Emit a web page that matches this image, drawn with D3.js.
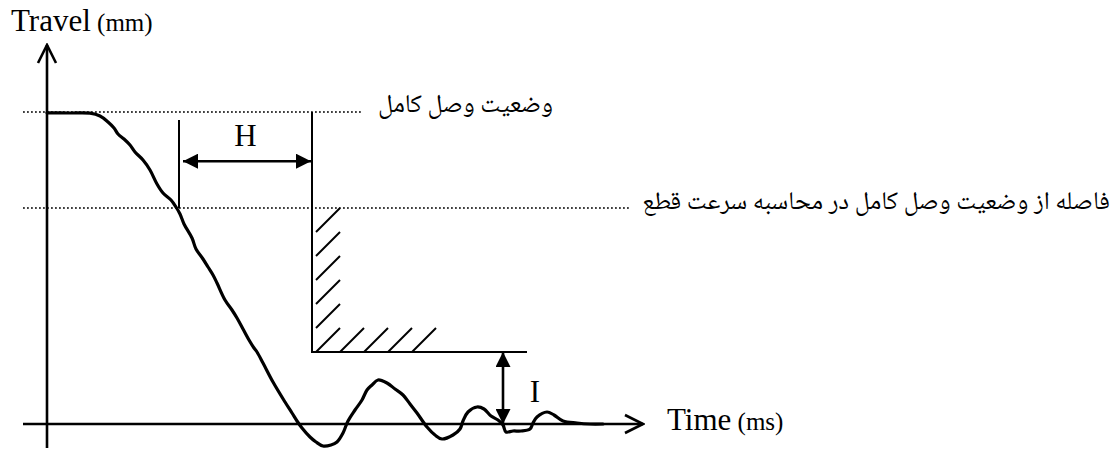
<!DOCTYPE html>
<html>
<head>
<meta charset="utf-8">
<script src="https://cdn.jsdelivr.net/npm/d3@7"></script>
<style>
  html, body { margin: 0; padding: 0; background: #fff; }
  svg { display: block; }
</style>
</head>
<body>
<svg id="chart" width="1118" height="452"></svg>
<script>
// ---- data (time in ms-units, travel in mm-units) ----
const curveTime = [0, 5.75, 10.75, 13.25, 15.25, 16.75, 17.75, 19.25, 20.75, 22, 24, 25.75, 27.5, 29, 31, 32.25, 33.25, 34.25, 36.25, 37.25, 39, 40.25, 41.5, 42.5, 44.5, 46.25, 47.5, 49, 50.5, 51.75, 52.5, 54, 56.5, 59.5, 61.25, 62.5, 63.75, 65.75, 67.25, 69, 71, 72.5, 74, 75.25, 77, 78.75, 80, 81.25, 82.75, 85, 87, 89, 90.75, 92.5, 95, 97, 98.75, 101.5, 103.25, 104, 105.25, 107.5, 109.25, 111, 112.75, 114, 114.75, 116.5, 118.5, 120.75, 121.5, 122.5, 125, 126.75, 129, 132.5, 135.75, 139];
const curveTravel = [77.8, 77.75, 77.7, 77, 75.5, 74, 72.5, 71.25, 69.75, 68, 66, 63.5, 60, 57.75, 56, 54.25, 52.5, 50, 46.5, 43.75, 41.25, 39.25, 37.25, 35.25, 31, 28.5, 26.5, 23.75, 21, 19, 18, 15.25, 10.5, 5.5, 2.75, 0.75, -1, -3.25, -4.5, -5.5, -5.25, -4.5, -2.25, 0.75, 3.5, 6, 8.5, 9.75, 11, 10.25, 8.75, 7.25, 5, 2.75, -0.75, -2.75, -3.75, -2.75, -1.25, 0.75, 3, 4.25, 3.75, 2, 1, -0.25, -2, -1.75, -1.75, -1.25, 0.25, 1.75, 3, 2.25, 0.75, 0.25, 0, 0];

const closedLevel = 78;        // full closed position
const measureLevel = 54;       // level used in opening-speed calc
const hStart = 33, hEnd = 66.25, hTop = 76;   // H interval
const envelopeTime = 66.25, envelopeLevel = 18, envelopeEnd = 120;
const iTime = 114;
const hatchLevels = [18, 24, 30, 36, 42, 48];
const hatchTimes = [73.25, 79.25, 85.25, 91.25];
const hatchSize = 6, hatchGap = 1;
const xDomain = [0, 149], yDomain = [0, 78];
const axisXMin = -6, axisYMin = -6, axisYMax = 94.75;

const labelTravel = "Travel", unitTravel = "(mm)";
const labelTime = "Time", unitTime = "(ms)";
const labelH = "H", labelI = "I";
const textClosed = "وضعیت وصل کامل";
const textMeasure = "فاصله از وضعیت وصل کامل در محاسبه سرعت قطع";

// ---- scales ----
const x = d3.scaleLinear().domain(xDomain).range([47, 643]);
const y = d3.scaleLinear().domain(yDomain).range([424, 112]);

const svg = d3.select("#chart");
const defs = svg.append("defs");
defs.append("marker").attr("id", "arrowFill")
  .attr("viewBox", "0 0 16 16").attr("refX", 16).attr("refY", 8)
  .attr("markerWidth", 16).attr("markerHeight", 15)
  .attr("markerUnits", "userSpaceOnUse").attr("orient", "auto-start-reverse")
  .append("path").attr("d", "M0,0 L16,8 L0,16 Z").attr("fill", "#000");
defs.append("marker").attr("id", "arrowOpen")
  .attr("viewBox", "-1 -1 22 24").attr("refX", 19).attr("refY", 10)
  .attr("markerWidth", 22).attr("markerHeight", 24)
  .attr("markerUnits", "userSpaceOnUse").attr("orient", "auto")
  .append("path").attr("d", "M1,1 L19,10 L1,19").attr("fill", "none")
  .attr("stroke", "#000").attr("stroke-width", 2.6);

const serif = "'Liberation Serif', 'Times New Roman', serif";

// dotted reference lines
svg.append("line").attr("x1", x(axisXMin)).attr("x2", 362)
  .attr("y1", y(closedLevel)).attr("y2", y(closedLevel))
  .attr("stroke", "#000").attr("stroke-width", 1.6).attr("stroke-dasharray", "1.8,2.2");
svg.append("line").attr("x1", x(axisXMin)).attr("x2", 630)
  .attr("y1", y(measureLevel)).attr("y2", y(measureLevel))
  .attr("stroke", "#000").attr("stroke-width", 1.6).attr("stroke-dasharray", "1.8,2.2");

// axes
svg.append("line").attr("x1", x(0)).attr("x2", x(0))
  .attr("y1", y(axisYMin)).attr("y2", y(axisYMax))
  .attr("stroke", "#000").attr("stroke-width", 2.6).attr("marker-end", "url(#arrowOpen)");
svg.append("line").attr("x1", x(axisXMin)).attr("x2", x(xDomain[1]))
  .attr("y1", y(0)).attr("y2", y(0))
  .attr("stroke", "#000").attr("stroke-width", 2.6).attr("marker-end", "url(#arrowOpen)");

// H guide line
svg.append("line").attr("x1", x(hStart)).attr("x2", x(hStart))
  .attr("y1", y(hTop)).attr("y2", y(measureLevel))
  .attr("stroke", "#000").attr("stroke-width", 2);
// envelope
svg.append("path")
  .attr("d", d3.line()([[x(envelopeTime), y(closedLevel)], [x(envelopeTime), y(envelopeLevel)], [x(envelopeEnd), y(envelopeLevel)]]))
  .attr("fill", "none").attr("stroke", "#000").attr("stroke-width", 2);
// hatches
const hatchData = hatchLevels.map(v => [envelopeTime + hatchGap, v])
  .concat(hatchTimes.map(t => [t, envelopeLevel]));
svg.selectAll("line.hatch").data(hatchData).join("line").attr("class", "hatch")
  .attr("x1", d => x(d[0])).attr("y1", d => y(d[1]))
  .attr("x2", d => x(d[0] + hatchSize)).attr("y2", d => y(d[1] + hatchSize))
  .attr("stroke", "#000").attr("stroke-width", 2);

// H arrow
const hArrowLevel = (hTop + closedLevel) / 2 - 11.3;
svg.append("line").attr("x1", x(hStart) + 4).attr("x2", x(hEnd) - 1)
  .attr("y1", y(hArrowLevel)).attr("y2", y(hArrowLevel))
  .attr("stroke", "#000").attr("stroke-width", 2.6)
  .attr("marker-start", "url(#arrowFill)").attr("marker-end", "url(#arrowFill)");
svg.append("text").attr("x", x((hStart + hEnd) / 2)).attr("y", 146)
  .attr("text-anchor", "middle").attr("font-family", serif).attr("font-size", 31).text(labelH);

// I arrow
svg.append("line").attr("x1", x(iTime)).attr("x2", x(iTime))
  .attr("y1", y(envelopeLevel)).attr("y2", y(0))
  .attr("stroke", "#000").attr("stroke-width", 2.6)
  .attr("marker-start", "url(#arrowFill)").attr("marker-end", "url(#arrowFill)");
svg.append("text").attr("x", x(iTime) + 32).attr("y", 402)
  .attr("text-anchor", "middle").attr("font-family", serif).attr("font-size", 31).text(labelI);

// travel curve
const pts = curveTime.map((t, i) => [t, curveTravel[i]]);
svg.append("path").datum(pts)
  .attr("d", d3.line().x(d => x(d[0])).y(d => y(d[1])).curve(d3.curveCatmullRom.alpha(0.5)))
  .attr("fill", "none").attr("stroke", "#000").attr("stroke-width", 3.2)
  .attr("stroke-linejoin", "round").attr("stroke-linecap", "round");

// axis titles
const tT = svg.append("text").attr("x", 11).attr("y", 31).attr("font-family", serif);
tT.append("tspan").attr("font-size", 31).text(labelTravel);
tT.append("tspan").attr("font-size", 25).text(" " + unitTravel);
const tX = svg.append("text").attr("x", 667).attr("y", 430).attr("font-family", serif);
tX.append("tspan").attr("font-size", 31).text(labelTime);
tX.append("tspan").attr("font-size", 25).text(" " + unitTime);

// Persian annotations (fit to measured width)
const arabicFont = "'Noto Naskh Arabic', 'Noto Sans Arabic', 'DejaVu Sans', serif";
function fitText(str, right, left, baseline) {
  const t = svg.append("text").attr("x", right).attr("y", baseline)
    .attr("text-anchor", "end").attr("font-family", arabicFont).attr("font-size", 20)
    .attr("fill", "#000").text(str);
  const w = t.node().getComputedTextLength();
  t.attr("font-size", 20 * (right - left) / w);
  return t;
}
fitText(textClosed, 553, 378, 112);
fitText(textMeasure, 1110, 642, 209);
</script>
</body>
</html>
